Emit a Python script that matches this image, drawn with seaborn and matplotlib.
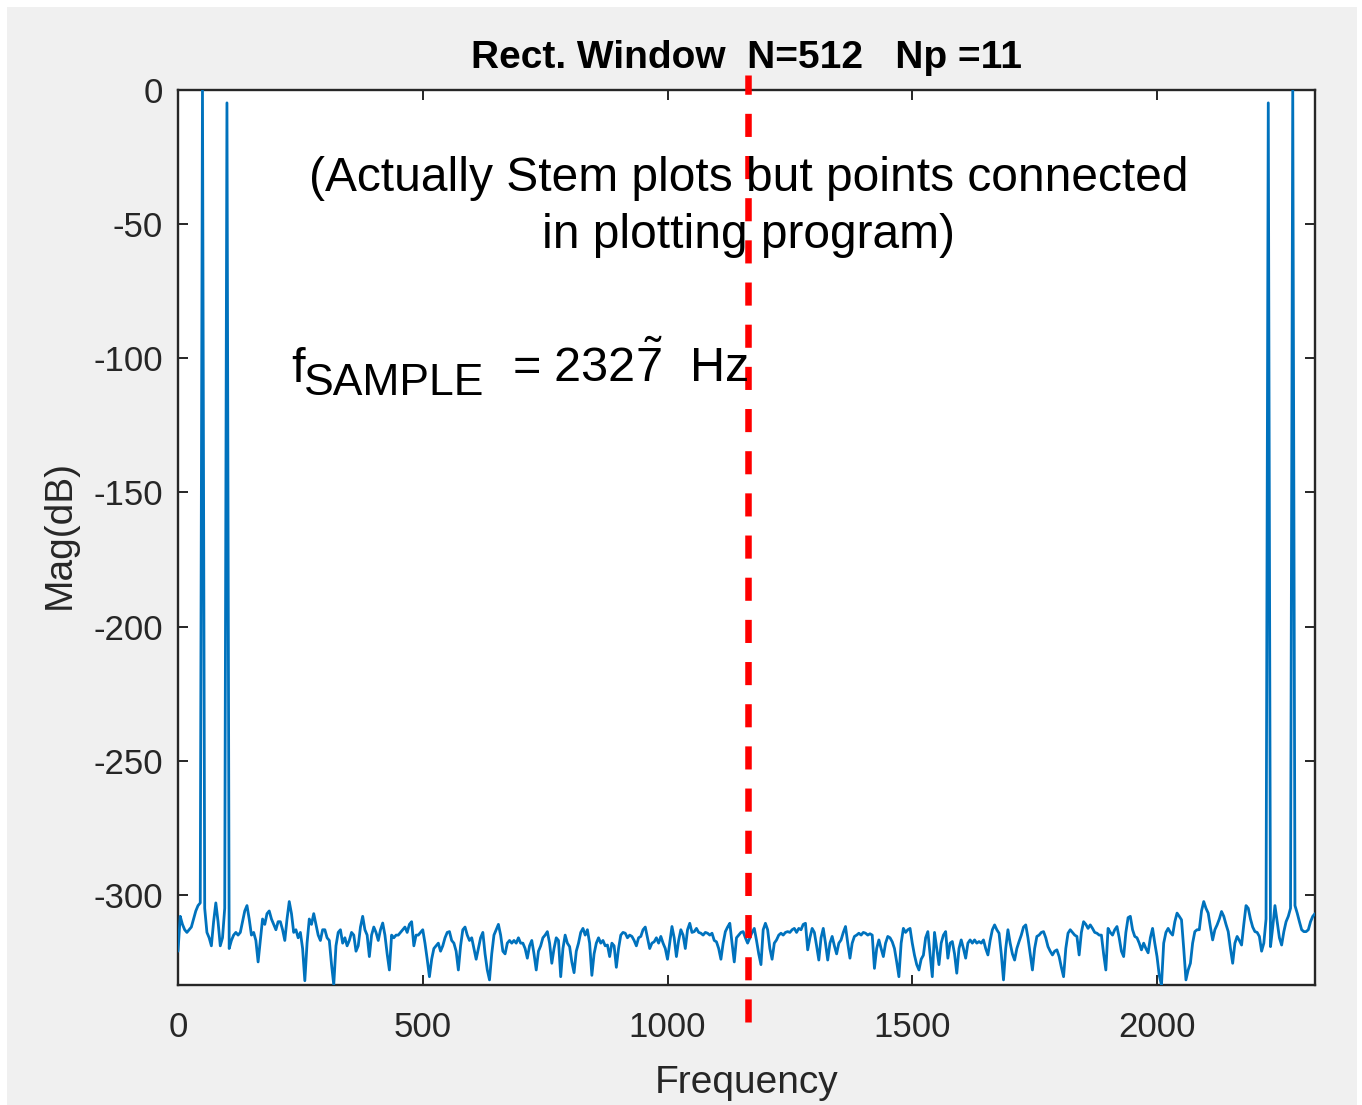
import numpy as np
import pandas as pd
import matplotlib
matplotlib.use("Agg")
import matplotlib.pyplot as plt
import seaborn as sns
from matplotlib.patches import Rectangle

# ---------------- data ----------------
fs = 2327
N = 512
title_text = "Rect. Window  N=512   Np =11"
x_ticks = [0, 500, 1000, 1500, 2000]
y_ticks = [-300, -250, -200, -150, -100, -50, 0]

mag_a = [
    -321, -308, -311, -313, -314, -313, -312, -309, -306, -304, -303, 0, -305, -314, -316, -319,
    -310, -303, -310, -319, -316, -305, -4.8, -320, -317, -315, -314, -315, -314, -310, -306, -304,
    -309, -315, -314, -317, -325, -317, -309, -311, -307, -306, -309, -311, -313, -310, -310, -313,
    -317, -309, -302.5, -307, -314, -313, -316, -314, -320, -332, -318, -309, -311, -307, -311, -315,
    -317, -313, -313, -316, -317, -326, -333.5, -319, -314, -313, -318, -316, -319, -317, -314, -315,
    -321, -319, -312, -308, -313, -315, -323, -315, -312, -314, -317, -313, -310.5, -315, -322, -328,
    -315, -316, -315, -315, -314, -313, -312, -314, -311, -310, -319, -315, -315, -314, -313, -318,
    -324, -330.5, -324, -320, -319, -318, -321, -319, -316, -314, -313.7, -317, -318, -321, -328, -319,
]
mag_b = [
    -313, -312, -315, -317, -316, -320, -324, -320, -316, -314, -322, -328, -331.7, -322, -315, -313,
    -311, -315, -321, -322, -318, -317, -318, -317, -318, -316, -318, -318, -320, -323.6, -319, -317,
    -322, -328, -321, -319, -316, -315, -313.7, -318, -325.5, -320, -316, -317, -330.5, -320, -315, -318,
    -319.3, -325, -329, -321, -318, -314, -312.5, -315, -313, -318, -330, -322, -318, -316, -318, -317,
    -319, -318.7, -323, -318, -319, -327, -320, -315, -314, -314.3, -316, -315, -315.5, -317, -319, -316,
    -315.5, -313, -312, -316, -320, -318, -317.5, -316, -318, -315.5, -318, -320, -324, -318, -311.8, -316,
    -323, -317, -313, -315, -320, -313, -310.6, -314, -313.7, -312.5, -314, -314.3, -315, -314, -314.3, -315,
    -314.3, -317, -317.5, -320, -324, -318, -313.7, -312, -310.6, -318, -325, -316, -315, -314, -313.7, -316,
]
mag_c = [
    -318, -316, -314, -312.5, -317, -322, -326, -313, -310.6, -313, -320, -324, -318, -316.8, -315, -314.3,
    -315, -314, -313.7, -314, -313, -312.5, -314, -312.5, -313, -311, -310.6, -320.5, -316, -312.5, -314, -319,
    -324.3, -316, -312.5, -318, -324.3, -318, -315.5, -319, -322, -318, -316.8, -314, -311.8, -318, -323.6, -318,
    -315.5, -315, -314.3, -315, -314, -314.3, -315, -314.5, -315, -327.4, -320, -316.8, -320, -323, -318, -315.5,
    -316, -317.5, -320, -325, -330.5, -318, -312.5, -314, -313, -312.5, -318, -322.5, -326, -328, -324, -322.5,
    -316, -313.7, -322, -330.5, -314, -320, -326, -318, -315, -313.7, -323.6, -318, -317.4, -322, -329.2, -320,
    -316.8, -320, -323.6, -318, -316.8, -318, -316.8, -318, -317.4, -318, -316.8, -320, -322.4, -317, -313, -311.2,
    -313, -314.3, -322, -331.7, -320, -313, -318, -322, -324.3, -320, -317.4, -315, -312, -311.2, -316, -322,
]
mag_d = [
    -328, -320, -315.5, -315, -314, -313.7, -316, -319.3, -321, -322.4, -321, -320.5, -323, -327, -330.5, -320,
    -314.3, -313, -314, -315, -315.5, -322.4, -314, -310, -311, -312.5, -311.2, -312.5, -314, -314.3, -315, -315,
    -322, -328, -312.5, -314, -315, -313, -311.8, -316, -321, -323, -314, -308.5, -308, -313, -315.5, -316,
    -318, -320.5, -318, -320, -321.6, -316, -312.5, -318, -323, -330, -333.6, -318, -314, -312.5, -314, -315,
    -310, -306.8, -308, -309.3, -320, -331.7, -328, -325.5, -318, -313.7, -313, -313, -306, -302.5, -305, -306.8,
    -312, -316.8, -313, -311.2, -309, -306.2, -308, -311, -313.7, -320, -325.5, -318, -315.5, -317, -318.7, -311,
    -304, -305, -309, -312, -313.7, -314, -315.5, -321, -318, -309, -4.8, -319.3, -312, -304, -310, -316,
    -318.7, -313.7, -310, -308, -305, 0, -304, -306.8, -310, -313, -313.7, -313.7, -313, -310, -308, -307,
]

mag_db = mag_a + mag_b + mag_c + mag_d
freq = np.arange(N) * fs / N
df = pd.DataFrame({"Frequency": freq, "Mag(dB)": mag_db})

# ---------------- style ----------------
sns.set_theme(style="ticks")
plt.rcParams['font.family'] = ['Liberation Sans', 'DejaVu Sans']
plt.rcParams['axes.unicode_minus'] = False
plt.rcParams['mathtext.fontset'] = 'custom'
plt.rcParams['mathtext.rm'] = 'Liberation Sans'
plt.rcParams['mathtext.it'] = 'Liberation Sans:italic'
plt.rcParams['mathtext.default'] = 'regular'

W, H = 1362, 1105
fig = plt.figure(figsize=(W / 100, H / 100), dpi=100)
fig.patch.set_facecolor('white')
fig.patches.append(Rectangle((7 / W, 0), (1357 - 7) / W, (H - 7) / H,
                             transform=fig.transFigure, facecolor='#f0f0f0',
                             edgecolor='none', zorder=-10))

ax = fig.add_axes([178 / W, 1 - 985 / H, (1315 - 178) / W, (985 - 90) / H])
ax.set_facecolor('white')

sns.lineplot(data=df, x="Frequency", y="Mag(dB)", ax=ax, color='#0072BD',
             linewidth=2.0, zorder=3)

ax.set_xlim(0, freq[-1])
ax.set_ylim(min(mag_db), 0)
ax.set_xticks(x_ticks)
ax.set_xticklabels([str(t) for t in x_ticks])
ax.set_yticks(y_ticks)
ax.set_yticklabels([str(t) for t in y_ticks])

dark = '#262626'
for s in ax.spines.values():
    s.set_visible(True)
    s.set_color(dark)
    s.set_linewidth(1.7)
ax.tick_params(axis='both', direction='in', length=7.2, width=1.4, color=dark,
               labelcolor=dark, labelsize=25, top=True, right=True)
ax.tick_params(axis='x', pad=19)
ax.tick_params(axis='y', pad=11)

ax.set_xlabel("Frequency", fontsize=28, color=dark)
ax.xaxis.set_label_coords(0.5, -0.0894)
ax.set_ylabel("Mag(dB)", fontsize=28, color=dark)
ax.yaxis.set_label_coords(-0.088, 0.503)
ax.set_title(title_text, fontsize=28, fontweight='bold', color='black', pad=16)

# red dashed line at fs/2 extending beyond the axes
ax.axvline(fs / 2, ymin=(985 - 1022) / 895, ymax=(985 - 75) / 895, color='#ff0000',
           linewidth=4.7, dashes=(3.54, 2.92), clip_on=False, zorder=5)

# annotations
fig.text(749 / W, 1 - 191 / H, "(Actually Stem plots but points connected",
         ha='center', va='baseline', fontsize=34.5, color='black', zorder=6)
fig.text(748 / W, 1 - 248 / H, "in plotting program)",
         ha='center', va='baseline', fontsize=34.5, color='black', zorder=6)

fig.text(291 / W, 1 - 382 / H, "f", ha='left', va='baseline', fontsize=35, color='black')
fig.text(304 / W, 1 - 395 / H, "SAMPLE", ha='left', va='baseline', fontsize=32, color='black')
fig.text(512 / W, 1 - 382 / H, r"= 232$\tilde{7}$  Hz", ha='left', va='baseline',
         fontsize=35, color='black', zorder=6)

fig.savefig("out.png", dpi=100, facecolor=fig.get_facecolor())
